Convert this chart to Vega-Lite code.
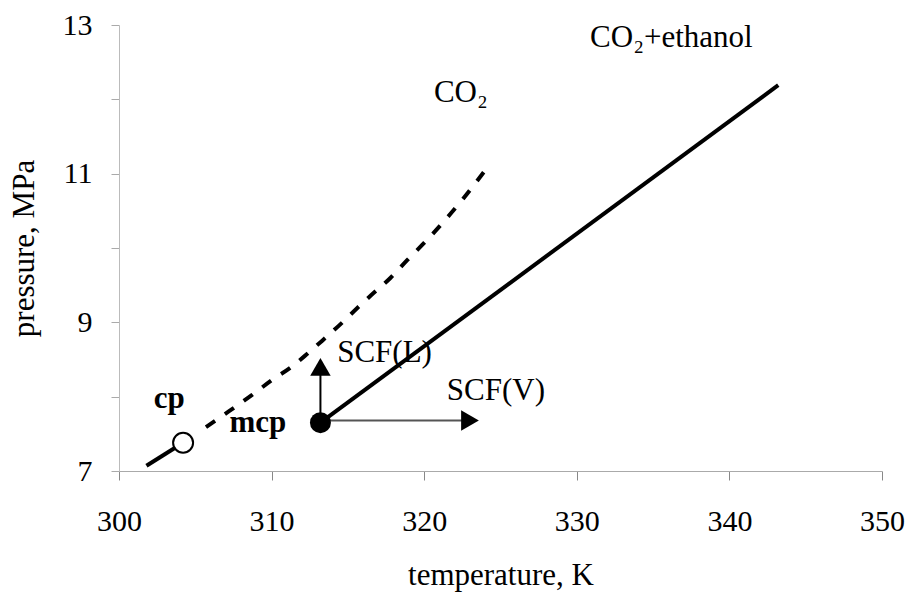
{
  "$schema": "https://vega.github.io/schema/vega-lite/v6.json",
  "width": 763,
  "height": 446,
  "autosize": {"type": "none"},
  "padding": {"left": 119, "top": 25, "right": 25, "bottom": 126},
  "background": "white",
  "config": {
    "view": {"stroke": null},
    "font": "Liberation Serif",
    "axis": {
      "grid": false,
      "labelFont": "Liberation Serif",
      "titleFont": "Liberation Serif",
      "labelColor": "black",
      "titleColor": "black",
      "titleFontWeight": "normal",
      "labelFontSize": 30,
      "titleFontSize": 31,
      "labelFlush": false,
      "labelOverlap": false
    }
  },
  "datasets": {
    "co2_solid": [
      {"T": 301.8, "P": 7.07},
      {"T": 304.2, "P": 7.38}
    ],
    "co2_dashed": [
      {"T": 305.7, "P": 7.59},
      {"T": 306.9, "P": 7.76},
      {"T": 308.7, "P": 8.02},
      {"T": 310.0, "P": 8.22},
      {"T": 311.3, "P": 8.40},
      {"T": 312.3, "P": 8.57},
      {"T": 313.3, "P": 8.75},
      {"T": 314.8, "P": 9.03},
      {"T": 315.6, "P": 9.19},
      {"T": 316.5, "P": 9.36},
      {"T": 317.8, "P": 9.6},
      {"T": 318.9, "P": 9.84},
      {"T": 320.1, "P": 10.09},
      {"T": 321.3, "P": 10.36},
      {"T": 322.5, "P": 10.65},
      {"T": 323.9, "P": 11.02}
    ],
    "mix": [
      {"T": 313.2, "P": 7.65},
      {"T": 343.2, "P": 12.19}
    ],
    "points": [
      {"name": "cp", "T": 304.2, "P": 7.38},
      {"name": "mcp", "T": 313.2, "P": 7.65}
    ],
    "arrows": [
      {"dir": "up", "T": 313.2, "P": 7.65, "T2": 313.2, "P2": 8.4},
      {"dir": "right", "T": 313.2, "P": 7.68, "T2": 323.0, "P2": 7.68}
    ],
    "labels": [
      {"text": "cp", "kind": "point", "T": 303.3, "P": 7.85},
      {"text": "mcp", "kind": "point", "T": 309.1, "P": 7.52},
      {"text": "SCF(L)", "kind": "region", "T": 317.4, "P": 8.47},
      {"text": "SCF(V)", "kind": "region", "T": 324.7, "P": 7.955},
      {"text": "CO₂", "kind": "curve", "T": 322.4, "P": 11.96},
      {"text": "CO₂+ethanol", "kind": "curve", "T": 336.2, "P": 12.7}
    ]
  },
  "encoding": {
    "x": {
      "field": "T",
      "type": "quantitative",
      "scale": {"domain": [300, 350], "nice": false, "zero": false},
      "axis": {
        "title": "temperature, K",
        "values": [300, 310, 320, 330, 340, 350],
        "domainColor": "#aaaaaa",
        "tickColor": "#888888",
        "tickSize": 9,
        "labelPadding": 26,
        "titlePadding": 24
      }
    },
    "y": {
      "field": "P",
      "type": "quantitative",
      "scale": {"domain": [7, 13], "nice": false, "zero": false},
      "axis": {
        "title": "pressure, MPa",
        "values": [7, 8, 9, 10, 11, 12, 13],
        "labelExpr": "datum.value % 2 == 1 ? datum.label : ''",
        "domainColor": "#bbbbbb",
        "tickColor": "#aaaaaa",
        "tickSize": 8,
        "labelPadding": 19,
        "titlePadding": 22
      }
    }
  },
  "layer": [
    {
      "data": {"name": "labels"},
      "transform": [{"filter": "datum.kind == 'point'"}],
      "mark": {"type": "text", "font": "Liberation Serif", "fontSize": 31, "fontWeight": "bold", "align": "center", "baseline": "alphabetic", "color": "black"},
      "encoding": {"text": {"field": "text"}}
    },
    {
      "data": {"name": "labels"},
      "transform": [{"filter": "datum.kind != 'point'"}],
      "mark": {"type": "text", "font": "Liberation Serif", "fontSize": 31, "align": "center", "baseline": "alphabetic", "color": "black"},
      "encoding": {"text": {"field": "text"}}
    },
    {
      "data": {"name": "co2_solid"},
      "mark": {"type": "line", "color": "black", "strokeWidth": 4},
      "encoding": {}
    },
    {
      "data": {"name": "co2_dashed"},
      "mark": {"type": "line", "color": "black", "strokeWidth": 4, "strokeDash": [11, 12], "interpolate": "monotone"},
      "encoding": {}
    },
    {
      "data": {"name": "mix"},
      "mark": {"type": "line", "color": "black", "strokeWidth": 4},
      "encoding": {}
    },
    {
      "data": {"name": "arrows"},
      "transform": [{"filter": "datum.dir == 'up'"}],
      "mark": {"type": "rule", "color": "black", "strokeWidth": 2},
      "encoding": {"x2": {"field": "T2"}, "y2": {"field": "P2"}}
    },
    {
      "data": {"name": "arrows"},
      "transform": [{"filter": "datum.dir == 'right'"}],
      "mark": {"type": "rule", "color": "#555555", "strokeWidth": 2},
      "encoding": {"x2": {"field": "T2"}, "y2": {"field": "P2"}}
    },
    {
      "data": {"name": "arrows"},
      "transform": [{"filter": "datum.dir == 'up'"}],
      "mark": {"type": "point", "shape": "triangle-up", "filled": true, "color": "black", "size": 420, "opacity": 1},
      "encoding": {"x": {"field": "T2", "type": "quantitative"}, "y": {"field": "P2", "type": "quantitative"}}
    },
    {
      "data": {"name": "arrows"},
      "transform": [{"filter": "datum.dir == 'right'"}],
      "mark": {"type": "point", "shape": "triangle-right", "filled": true, "color": "black", "size": 420, "opacity": 1},
      "encoding": {"x": {"field": "T2", "type": "quantitative"}, "y": {"field": "P2", "type": "quantitative"}}
    },
    {
      "data": {"name": "points"},
      "transform": [{"filter": "datum.name == 'cp'"}],
      "mark": {"type": "point", "shape": "circle", "filled": true, "fill": "white", "stroke": "black", "strokeWidth": 2, "size": 400, "opacity": 1},
      "encoding": {}
    },
    {
      "data": {"name": "points"},
      "transform": [{"filter": "datum.name == 'mcp'"}],
      "mark": {"type": "point", "shape": "circle", "filled": true, "color": "black", "size": 440, "opacity": 1},
      "encoding": {}
    }
  ]
}
